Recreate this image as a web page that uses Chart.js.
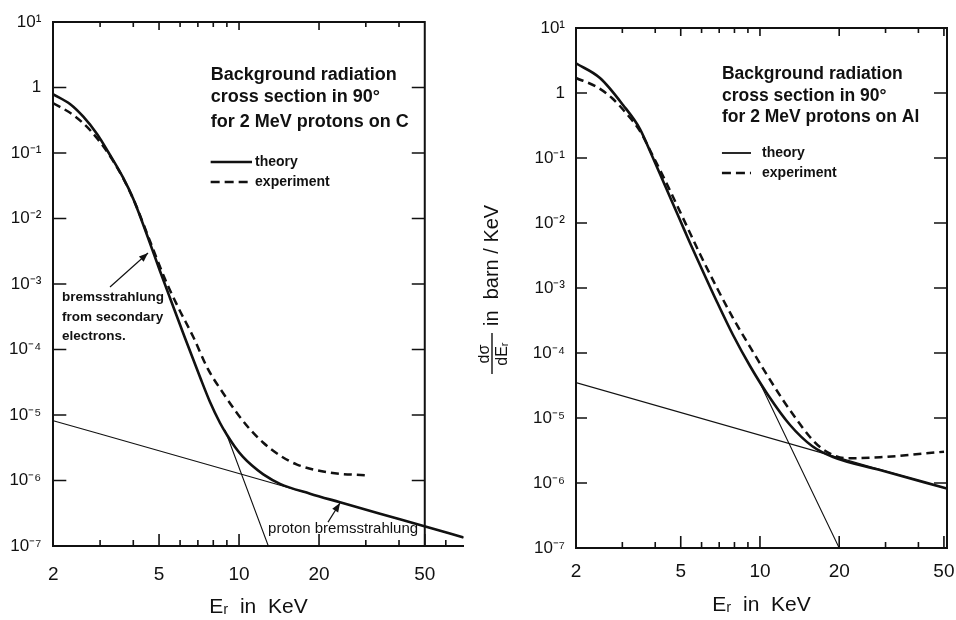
<!DOCTYPE html>
<html>
<head>
<meta charset="utf-8">
<script src="https://cdn.jsdelivr.net/npm/chart.js@4.4.1/dist/chart.umd.min.js"></script>
<style>
  body { margin: 0; background: #fff; }
  #wrap { position: relative; width: 956px; height: 620px; overflow: hidden; }
  .panel { position: absolute; top: 0; width: 478px; height: 620px; }
</style>
</head>
<body>
<div id="wrap">
  <div class="panel" style="left:0"><canvas id="chartC" width="478" height="620"></canvas></div>
  <div class="panel" style="left:478px"><canvas id="chartAl" width="478" height="620"></canvas></div>
</div>
<script>
const INK = '#111';
const FONT = '"Liberation Sans", Arial, sans-serif';

// axes
const xTickVals = [2, 5, 10, 20, 50];
const xTickLabels = ['2', '5', '10', '20', '50'];
const xMinorVals = [3, 4, 6, 7, 8, 9, 30, 40, 60];
const yTickVals = [10, 1, 1e-1, 1e-2, 1e-3, 1e-4, 1e-5, 1e-6, 1e-7];
const yTickLabels = ['10¹', '1', '10⁻¹', '10⁻²', '10⁻³', '10⁻⁴', '10⁻⁵', '10⁻⁶', '10⁻⁷'];

// 2 MeV protons on C  (E in KeV, dσ/dE in barn/KeV)
const cTheoryE = [2, 2.311, 2.594, 2.921, 3.269, 3.658, 4.001, 4.505, 5.041, 5.498, 6.261, 7.130, 7.776, 8.483, 9.012, 9.657, 10.35, 11.19, 12.34, 14.26, 18.50, 23.99, 33.94, 47.98, 70.0];
const cTheoryV = [0.787, 0.560, 0.358, 0.195, 0.0932, 0.0423, 0.01985, 5.60e-3, 1.58e-3, 6.11e-4, 1.50e-4, 3.80e-5, 1.58e-5, 7.55e-6, 4.95e-6, 3.25e-6, 2.29e-6, 1.69e-6, 1.24e-6, 8.9e-7, 6.3e-7, 4.65e-7, 3.11e-7, 2.09e-7, 1.35e-7];
const cExpE = [2, 2.379, 2.748, 3.269, 3.658, 4.061, 4.544, 5.265, 5.892, 6.729, 7.643, 8.706, 9.910, 11.00, 12.31, 14.26, 16.53, 22.00, 30.59];
const cExpV = [0.574, 0.380, 0.2245, 0.0900, 0.0415, 0.01725, 5.40e-3, 1.19e-3, 4.46e-4, 1.55e-4, 5.01e-5, 2.17e-5, 1.02e-5, 6.04e-6, 3.80e-6, 2.41e-6, 1.75e-6, 1.32e-6, 1.19e-6];
const cProtonE = [2, 70];
const cProtonV = [8.18e-6, 1.35e-7];
const cSecondaryE = [8.856, 12.89];
const cSecondaryV = [5.90e-6, 1e-7];

// 2 MeV protons on Al
const aTheoryE = [2, 2.467, 3.018, 3.501, 3.820, 4.170, 4.551, 4.969, 5.423, 5.917, 6.868, 7.900, 9.166, 10.73, 13.01, 15.77, 18.95, 28.59, 51.36];
const aTheoryV = [2.86, 1.70, 0.654, 0.279, 0.128, 0.0568, 0.0251, 0.0111, 4.92e-3, 2.26e-3, 6.09e-4, 1.89e-4, 6.31e-5, 2.26e-5, 7.80e-6, 3.71e-6, 2.51e-6, 1.58e-6, 8.23e-7];
const aExpE = [2, 2.403, 2.739, 3.097, 3.501, 3.887, 4.355, 5.100, 5.917, 6.868, 7.900, 9.166, 10.64, 12.23, 13.83, 15.49, 16.91, 18.95, 21.41, 28.59, 50.03];
const aExpV = [1.70, 1.237, 0.838, 0.492, 0.260, 0.1151, 0.0459, 0.01194, 3.33e-3, 1.0e-3, 3.45e-4, 1.24e-4, 4.59e-5, 1.89e-5, 9.31e-6, 5.10e-6, 3.58e-6, 2.70e-6, 2.40e-6, 2.49e-6, 3.03e-6];
const aProtonE = [2, 51.36];
const aProtonV = [3.5e-5, 8.2e-7];
const aSecondaryE = [10.0, 20.0];
const aSecondaryV = [3.46e-5, 1e-7];

function pts(es, vs) {
  return es.map((e, i) => ({ x: e, y: vs[i] }));
}

function line(data, width, dash) {
  return {
    data: data,
    borderColor: INK,
    borderWidth: width,
    borderDash: dash,
    pointRadius: 0,
    fill: false,
    cubicInterpolationMode: 'monotone'
  };
}

// texts, arrows and legend of each panel, placed in data units
const panels = {
  chartC: {
    xMax: 70, frameEnd: 50,
    pad: { top: 22, right: 14.4, left: 0, bottom: 0 },
    yW: 53.3, xH: 74, xPad: 17, yPad: 12, titlePad: 0,
    yTick: 13, yTickR: 13,
    title: { x: 7.82, ys: [1.55, 0.716, 0.297], size: 18,
             lines: ['Background radiation', 'cross section in 90°', 'for 2 MeV protons on C'] },
    legend: { x0: 7.82, x1: 11.19, xt: 11.49, y1: 0.0729, y2: 0.0361, w: 2.5 },
    notes: [
      { x: 2.157, y: 6.33e-4, text: 'bremsstrahlung', font: 'bold 13.5px ' + FONT },
      { x: 2.157, y: 3.13e-4, text: 'from secondary', font: 'bold 13.5px ' + FONT },
      { x: 2.157, y: 1.61e-4, text: 'electrons.', font: 'bold 13.5px ' + FONT },
      { x: 12.86, y: 1.82e-7, text: 'proton bremsstrahlung', font: '15px ' + FONT }
    ],
    arrows: [
      { from: [3.269, 9.0e-4], to: [4.544, 2.97e-3] },
      { from: [21.62, 2.32e-7], to: [23.99, 4.53e-7] }
    ],
    yTitle: false
  },
  chartAl: {
    xMax: 51.36, frameEnd: 51.36,
    pad: { top: 28, right: 9, left: 0, bottom: 0 },
    yW: 98, xH: 72, xPad: 12, yPad: 11, titlePad: 2,
    yTick: 11, yTickR: 13,
    title: { x: 7.17, ys: [1.96, 0.899, 0.428], size: 17.5,
             lines: ['Background radiation', 'cross section in 90°', 'for 2 MeV protons on Al'] },
    legend: { x0: 7.17, x1: 9.245, xt: 10.18, y1: 0.1194, y2: 0.0588, w: 1.8 },
    notes: [],
    arrows: [],
    yTitle: true
  }
};

function drawArrow(ctx, x0, y0, x1, y1) {
  ctx.lineWidth = 1.2;
  ctx.beginPath();
  ctx.moveTo(x0, y0);
  ctx.lineTo(x1, y1);
  ctx.stroke();
  const ang = Math.atan2(y1 - y0, x1 - x0);
  const L = 9, W = 3.5;
  ctx.beginPath();
  ctx.moveTo(x1, y1);
  ctx.lineTo(x1 - L * Math.cos(ang) + W * Math.sin(ang), y1 - L * Math.sin(ang) - W * Math.cos(ang));
  ctx.lineTo(x1 - L * Math.cos(ang) - W * Math.sin(ang), y1 - L * Math.sin(ang) + W * Math.cos(ang));
  ctx.closePath();
  ctx.fill();
}

const paperPlugin = {
  id: 'paper',
  afterDraw(chart) {
    const cfg = panels[chart.canvas.id];
    const { ctx, chartArea: a } = chart;
    const x = chart.scales.x, y = chart.scales.y;
    const px = v => x.getPixelForValue(v);
    const py = v => y.getPixelForValue(v);
    const xr = px(cfg.frameEnd);

    ctx.save();
    ctx.strokeStyle = INK;
    ctx.fillStyle = INK;

    // top and right edges of the frame
    ctx.lineWidth = 2;
    ctx.beginPath();
    ctx.moveTo(a.left, a.top);
    ctx.lineTo(xr, a.top);
    ctx.lineTo(xr, a.bottom);
    ctx.stroke();

    // inward tick marks
    ctx.lineWidth = 1.6;
    ctx.beginPath();
    yTickVals.forEach(v => {
      ctx.moveTo(a.left, py(v)); ctx.lineTo(a.left + cfg.yTick, py(v));
      ctx.moveTo(xr, py(v)); ctx.lineTo(xr - cfg.yTickR, py(v));
    });
    xTickVals.forEach(v => {
      if (v <= 2 || v > cfg.xMax) return;
      ctx.moveTo(px(v), a.bottom); ctx.lineTo(px(v), a.bottom - 12);
      if (v < cfg.frameEnd) { ctx.moveTo(px(v), a.top); ctx.lineTo(px(v), a.top + 8); }
    });
    xMinorVals.forEach(v => {
      if (v > cfg.xMax) return;
      ctx.moveTo(px(v), a.bottom); ctx.lineTo(px(v), a.bottom - 6);
      if (v < cfg.frameEnd) { ctx.moveTo(px(v), a.top); ctx.lineTo(px(v), a.top + 5); }
    });
    ctx.stroke();

    // panel caption
    ctx.textAlign = 'left';
    ctx.textBaseline = 'middle';
    ctx.font = 'bold ' + cfg.title.size + 'px ' + FONT;
    cfg.title.lines.forEach((t, i) => ctx.fillText(t, px(cfg.title.x), py(cfg.title.ys[i])));

    // legend
    const lg = cfg.legend;
    ctx.lineWidth = lg.w;
    ctx.beginPath();
    ctx.moveTo(px(lg.x0), py(lg.y1)); ctx.lineTo(px(lg.x1), py(lg.y1));
    ctx.stroke();
    ctx.lineWidth = 2.5;
    ctx.setLineDash([9, 5]);
    ctx.beginPath();
    ctx.moveTo(px(lg.x0), py(lg.y2)); ctx.lineTo(px(lg.x1), py(lg.y2));
    ctx.stroke();
    ctx.setLineDash([]);
    ctx.font = 'bold 14px ' + FONT;
    ctx.fillText('theory', px(lg.xt), py(lg.y1));
    ctx.fillText('experiment', px(lg.xt), py(lg.y2));

    // notes and arrows
    cfg.notes.forEach(n => {
      ctx.font = n.font;
      ctx.fillText(n.text, px(n.x), py(n.y));
    });
    cfg.arrows.forEach(r => drawArrow(ctx, px(r.from[0]), py(r.from[1]), px(r.to[0]), py(r.to[1])));

    // rotated y title with the fraction dσ/dEr
    if (cfg.yTitle) {
      ctx.translate(y.left + 14, (a.top + a.bottom) / 2 + 88);
      ctx.rotate(-Math.PI / 2);
      ctx.font = '16px ' + FONT;
      ctx.textAlign = 'center';
      ctx.textBaseline = 'alphabetic';
      ctx.fillText('dσ', 22, -3);
      ctx.textBaseline = 'top';
      ctx.fillText('dEᵣ', 22, 3);
      ctx.lineWidth = 1.4;
      ctx.beginPath();
      ctx.moveTo(2, 0); ctx.lineTo(43, 0);
      ctx.stroke();
      ctx.font = '20px ' + FONT;
      ctx.textAlign = 'left';
      ctx.textBaseline = 'middle';
      ctx.fillText('in  barn / KeV', 50, 0);
    }
    ctx.restore();
  }
};

function makePanel(id, theory, exp, proton, secondary) {
  const cfg = panels[id];
  return new Chart(document.getElementById(id), {
    type: 'line',
    data: {
      datasets: [
        line(theory, 2.6, []),
        line(exp, 2.5, [8, 5]),
        line(proton, 1.1, []),
        line(secondary, 1.1, [])
      ]
    },
    options: {
      responsive: false,
      animation: false,
      events: [],
      layout: { padding: cfg.pad },
      plugins: { legend: { display: false }, tooltip: { enabled: false } },
      scales: {
        x: {
          type: 'logarithmic', min: 2, max: cfg.xMax, bounds: 'data',
          grid: { display: false, drawTicks: false },
          border: { display: true, color: INK, width: 2 },
          afterBuildTicks: s => { s.ticks = xTickVals.filter(v => v <= cfg.xMax).map(v => ({ value: v })); },
          afterFit: s => { s.height = cfg.xH; s.paddingLeft = 0; s.paddingRight = 0; },
          ticks: {
            autoSkip: false, maxRotation: 0, padding: cfg.xPad, color: INK,
            font: { family: FONT, size: 19 },
            callback: (v, i) => xTickLabels[i]
          },
          title: {
            display: true, text: 'Eᵣ  in  KeV', color: INK,
            font: { family: FONT, size: 21 }, padding: { top: 0, bottom: cfg.titlePad }
          }
        },
        y: {
          type: 'logarithmic', min: 1e-7, max: 10, bounds: 'data',
          grid: { display: false, drawTicks: false },
          border: { display: true, color: INK, width: 2 },
          afterBuildTicks: s => { s.ticks = yTickVals.map(v => ({ value: v })); },
          afterFit: s => { s.width = cfg.yW; s.paddingTop = 0; s.paddingBottom = 0; },
          ticks: {
            padding: cfg.yPad, color: INK,
            font: { family: FONT, size: 17 },
            callback: (v, i) => yTickLabels[i]
          }
        }
      }
    },
    plugins: [paperPlugin]
  });
}

makePanel('chartC', pts(cTheoryE, cTheoryV), pts(cExpE, cExpV), pts(cProtonE, cProtonV), pts(cSecondaryE, cSecondaryV));
makePanel('chartAl', pts(aTheoryE, aTheoryV), pts(aExpE, aExpV), pts(aProtonE, aProtonV), pts(aSecondaryE, aSecondaryV));
</script>
</body>
</html>
